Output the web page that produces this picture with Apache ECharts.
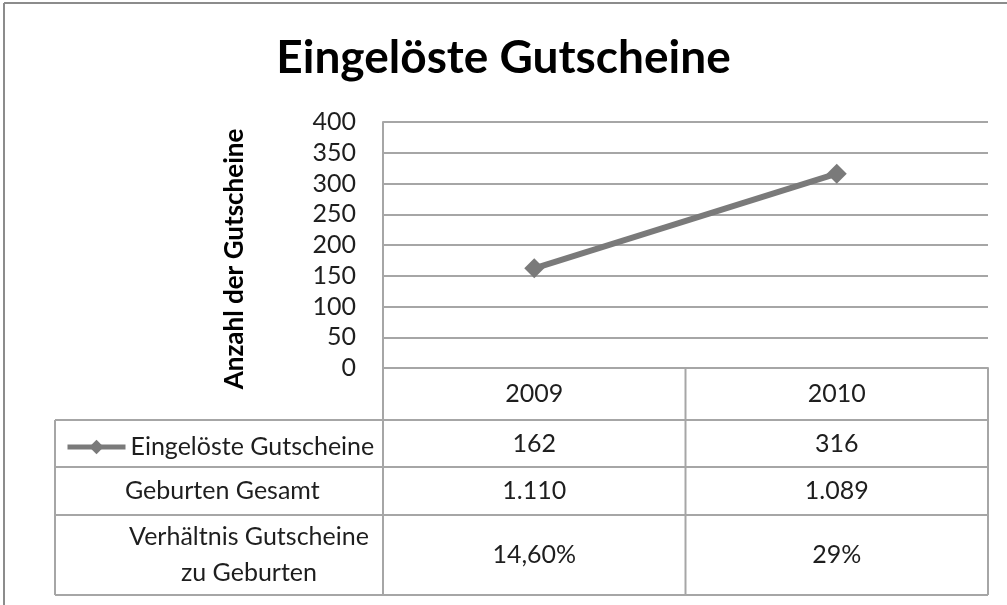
<!DOCTYPE html>
<html>
<head>
<meta charset="utf-8">
<script src="https://cdn.jsdelivr.net/npm/echarts@6/dist/echarts.min.js"></script>
<style>
  html, body { margin: 0; padding: 0; background: #fff; }
  #chart { width: 1007px; height: 605px; }
</style>
</head>
<body>
<div id="chart"></div>
<script>
// Werte aus dem Diagramm
const years = ['2009', '2010']
const redeemed = [162, 316]
const births = ['1.110', '1.089']
const ratio = ['14,60%', '29%']
const rowLabels = ['Eingelöste Gutscheine', 'Geburten Gesamt', 'Verhältnis Gutscheine\nzu Geburten']

const FONT = 'Lato'
const FS = 25
const W = 1007, H = 605
// Plotbereich
const plotL = 383, plotR = 988, plotT = 122, plotB = 368
// Tabellenzeilen (Trennlinien)
const tableL = 55
const rowLines = [420, 467, 515, 595]
const lineCol = '#a6a6a6'
const textCol = '#1e1e1e'

const chart = echarts.init(document.getElementById('chart'))

const colW = (plotR - plotL) / years.length
const graphics = []

// Rahmen (nur oben und links sichtbar)
graphics.push({
  type: 'line', shape: { x1: 4, y1: 3, x2: W, y2: 3 },
  style: { stroke: '#8c8c8c', lineWidth: 2 }
})
graphics.push({
  type: 'line', shape: { x1: 4, y1: 3, x2: 4, y2: H },
  style: { stroke: '#8c8c8c', lineWidth: 2 }
})

// horizontale Tabellenlinien
rowLines.forEach(y => {
  graphics.push({
    type: 'line', shape: { x1: tableL, y1: y, x2: plotR, y2: y },
    style: { stroke: lineCol, lineWidth: 2 }
  })
})
// vertikale Linien
graphics.push({
  type: 'line', shape: { x1: tableL, y1: rowLines[0], x2: tableL, y2: rowLines[3] },
  style: { stroke: lineCol, lineWidth: 2 }
})
for (let i = 0; i <= years.length; i++) {
  const x = plotL + i * colW
  graphics.push({
    type: 'line', shape: { x1: x, y1: plotB, x2: x, y2: rowLines[3] },
    style: { stroke: lineCol, lineWidth: 2 }
  })
}

// Zeilenbeschriftungen (erste Zeile übernimmt die Legende)
const rowMid = i => (rowLines[i] + rowLines[i + 1]) / 2
graphics.push({
  type: 'text', x: 125, y: rowMid(1),
  style: { text: rowLabels[1], font: FS + 'px ' + FONT, fill: textCol, textVerticalAlign: 'middle' }
})
graphics.push({
  type: 'text', x: 249, y: rowMid(2),
  style: { text: rowLabels[2], font: FS + 'px ' + FONT, fill: textCol, textAlign: 'center',
    textVerticalAlign: 'middle', lineHeight: 36 }
})

// Tabellenwerte
const rows = [redeemed.map(String), births, ratio]
rows.forEach((vals, r) => {
  vals.forEach((v, c) => {
    graphics.push({
      type: 'text', x: plotL + (c + 0.5) * colW, y: rowMid(r),
      style: { text: v, font: FS + 'px ' + FONT, fill: textCol, textAlign: 'center', textVerticalAlign: 'middle' }
    })
  })
})

const option = {
  backgroundColor: '#fff',
  animation: false,
  title: {
    text: 'Eingelöste Gutscheine',
    left: 'center',
    top: 30,
    textStyle: { fontFamily: FONT, fontSize: 46, fontWeight: 'bold', color: '#000' }
  },
  legend: {
    left: 60,
    top: rowMid(0) - 14,
    itemWidth: 58,
    itemHeight: 18,
    lineStyle: { width: 5 },
    textStyle: { fontFamily: FONT, fontSize: FS, color: textCol },
    data: ['Eingelöste Gutscheine']
  },
  grid: { left: plotL, right: W - plotR, top: plotT, bottom: H - plotB },
  xAxis: {
    type: 'category',
    data: years,
    boundaryGap: true,
    axisLine: { lineStyle: { color: lineCol, width: 2 } },
    axisTick: { show: false },
    axisLabel: { margin: 13, fontFamily: FONT, fontSize: FS, color: textCol }
  },
  yAxis: {
    type: 'value',
    min: 0,
    max: 400,
    interval: 50,
    name: 'Anzahl der Gutscheine',
    nameLocation: 'middle',
    nameGap: 135,
    nameTextStyle: { fontFamily: FONT, fontSize: 26, fontWeight: 'bold', color: '#000', padding: [0, 28, 0, 0] },
    axisLine: { show: true, lineStyle: { color: lineCol, width: 2 } },
    axisTick: { show: false },
    axisLabel: { margin: 27, fontFamily: FONT, fontSize: FS, color: textCol },
    splitLine: { lineStyle: { color: lineCol, width: 2 } }
  },
  series: [{
    name: 'Eingelöste Gutscheine',
    type: 'line',
    data: redeemed,
    symbol: 'diamond',
    symbolSize: 20,
    lineStyle: { color: '#7a7a7a', width: 6 },
    itemStyle: { color: '#7a7a7a' }
  }],
  graphic: graphics
}

chart.setOption(option)
</script>
</body>
</html>
